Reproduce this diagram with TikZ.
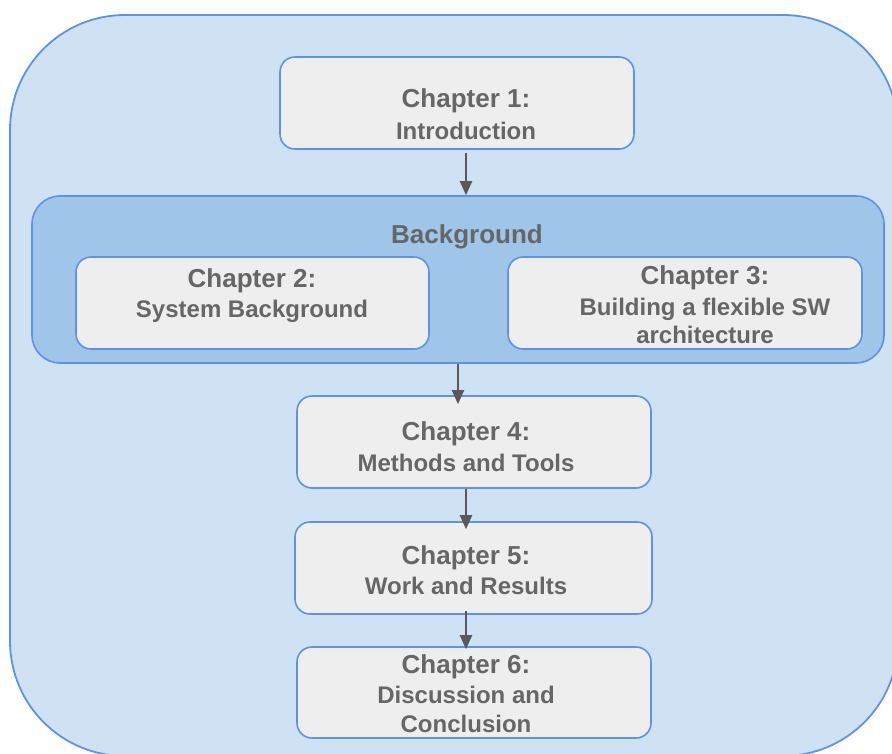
\documentclass[tikz,border=0pt]{standalone}
\usepackage{fontspec}
\setmainfont{Liberation Sans}
\usetikzlibrary{arrows.meta}
\definecolor{paneFill}{HTML}{CFE2F3}
\definecolor{groupFill}{HTML}{9FC5E8}
\definecolor{edgeBlue}{HTML}{5E92EA}
\definecolor{cardFill}{HTML}{EEEEEE}
\definecolor{inkGray}{HTML}{666666}
\definecolor{arrowGray}{HTML}{595959}
\begin{document}
\begin{tikzpicture}[x=1pt,y=-1pt,
  pane/.style={draw=edgeBlue, line width=1.8pt, fill=paneFill, rounded corners=115pt, inner sep=0pt},
  group/.style={draw=edgeBlue, line width=1.6pt, fill=groupFill, rounded corners=28pt, inner sep=0pt},
  card/.style={draw=edgeBlue, line width=1.6pt, fill=cardFill, rounded corners=15pt, inner sep=0pt},
  headline/.style={font=\fontsize{26}{30}\selectfont\bfseries, text=inkGray, anchor=base, inner sep=0pt},
  subline/.style={font=\fontsize{24}{28}\selectfont\bfseries, text=inkGray, anchor=base, inner sep=0pt},
  flow/.style={draw=arrowGray, line width=2pt, -{Triangle[length=14pt,width=12pt]}}]
\useasboundingbox (0,0) rectangle (892,753);
\clip (0,0) rectangle (892,753);

% outer frame
\node[pane, minimum width=888pt, minimum height=741pt] (frame) at (454,385.5) {};

% background group
\node[group, minimum width=852pt, minimum height=167pt] (bg) at (458,279.5) {};
\node[headline] (tbg) at (467,243) {Background};

% chapter cards
\node[card, minimum width=354pt, minimum height=92pt] (c1) at (457,103) {};
\node[card, minimum width=353pt, minimum height=92pt] (c2) at (252.5,303) {};
\node[card, minimum width=354pt, minimum height=92pt] (c3) at (685,303) {};
\node[card, minimum width=354pt, minimum height=92pt] (c4) at (474,442) {};
\node[card, minimum width=357pt, minimum height=92pt] (c5) at (473.5,568) {};
\node[card, minimum width=354pt, minimum height=91pt] (c6) at (474,692.5) {};

% card texts
\node[headline] (t1a) at (466,107) {Chapter 1:};
\node[subline]  (t1b) at (466,139) {Introduction};
\node[headline] (t2a) at (252,287) {Chapter 2:};
\node[subline]  (t2b) at (252,317) {System Background};
\node[headline] (t3a) at (705,284) {Chapter 3:};
\node[subline]  (t3b) at (705,315) {Building a flexible SW};
\node[subline]  (t3c) at (705,343) {architecture};
\node[headline] (t4a) at (466,440) {Chapter 4:};
\node[subline]  (t4b) at (466,471) {Methods and Tools};
\node[headline] (t5a) at (466,564) {Chapter 5:};
\node[subline]  (t5b) at (466,594) {Work and Results};
\node[headline] (t6a) at (466,673) {Chapter 6:};
\node[subline]  (t6b) at (466,703) {Discussion and};
\node[subline]  (t6c) at (466,732) {Conclusion};

% reading order
\draw[flow, shorten <=3pt] (c1.south -| t1a) -- (bg.north -| t1a);
\draw[flow, shorten >=-9pt] (bg.south) -- (bg.south |- c4.north);
\draw[flow, shorten >=-8pt] (c4.south -| t4a) -- (c5.north -| t4a);
\draw[flow, shorten <=-4pt, shorten >=-3pt] (c5.south -| t5a) -- (c6.north -| t5a);
\end{tikzpicture}
\end{document}
